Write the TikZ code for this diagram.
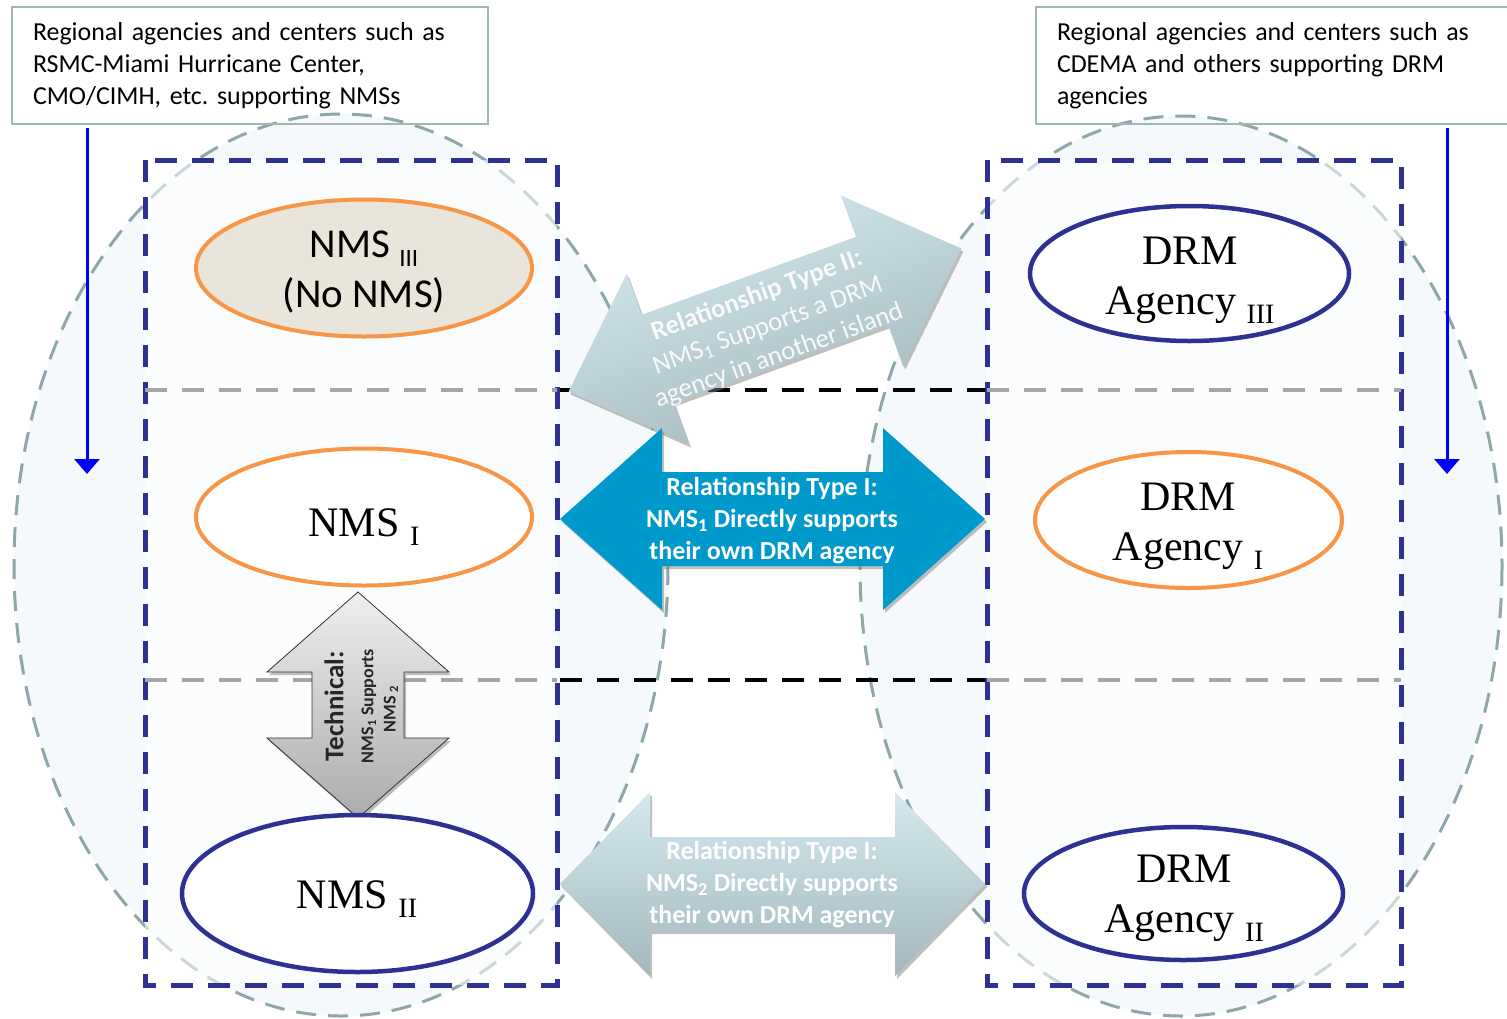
\documentclass[tikz,border=0pt]{standalone}
\usepackage{fontspec}
\setmainfont{Liberation Serif}
\newfontfamily\carlito{Carlito}
\usetikzlibrary{shapes.geometric,arrows.meta}
\definecolor{navy}{HTML}{2E3192}
\definecolor{orng}{HTML}{F79646}
\definecolor{beige}{HTML}{EAE5DA}
\definecolor{zoneline}{HTML}{8EA7A8}
\definecolor{zonefill}{HTML}{F6F9FB}
\definecolor{boxline}{HTML}{A3B6B6}
\definecolor{typeone}{HTML}{0099CB}
\definecolor{palet}{HTML}{D4EAEE}
\definecolor{paleb}{HTML}{A3B8BC}
\definecolor{divgray}{HTML}{A6A6A6}
\newcommand{\dblarr}[4]{(-#1,0) -- (-#1+#2,-#4) -- (-#1+#2,-#3) -- (#1-#2,-#3) -- (#1-#2,-#4) -- (#1,0) -- (#1-#2,#4) -- (#1-#2,#3) -- (-#1+#2,#3) -- (-#1+#2,#4) -- cycle}
\newcommand{\vdblarr}[4]{(0,-#1) -- (-#4,-#1+#2) -- (-#3,-#1+#2) -- (-#3,#1-#2) -- (-#4,#1-#2) -- (0,#1) -- (#4,#1-#2) -- (#3,#1-#2) -- (#3,-#1+#2) -- (#4,-#1+#2) -- cycle}
\newcommand{\lowsub}[2]{\raisebox{-9pt}{\fontsize{#1}{#1}\selectfont #2}}
\frenchspacing
\begin{document}
\begin{tikzpicture}[x=1pt,y=-1pt,line join=miter,
  zone/.style={fill=zonefill, draw=zoneline, line width=3, dash pattern=on 20pt off 12pt},
  column/.style={fill=white, fill opacity=0.55, draw=navy, line width=5, dash pattern=on 22pt off 15pt},
  divider/.style={draw=divgray, line width=4, dash pattern=on 22pt off 15pt},
  middiv/.style={draw=black, line width=4, dash pattern=on 22pt off 15pt},
  orgbox/.style={draw=boxline, line width=2, inner xsep=21, inner ysep=0, align=left,
    anchor=north west, minimum height=117, font=\carlito\fontsize{25.9}{32}\selectfont},
  agent/.style={ellipse, line width=4.5, fill=white, inner sep=0},
  serifname/.style={font=\fontsize{42}{50}\selectfont, align=center},
  bluearr/.style={draw=blue, line width=3, -{Triangle[width=25pt,length=15pt]}},
  arrshadow/.style={fill=black!50, fill opacity=0.5, draw=none},
  palefill/.style={top color=palet, bottom color=paleb, draw=none},
  techfill/.style={top color=black!6, bottom color=black!33, draw=black!80, line width=0.8},
  arrtext/.style={text=white, align=center, font=\carlito\bfseries\fontsize{26}{32}\selectfont},
  arrtexttwo/.style={text=white, text opacity=0.9, align=center, font=\carlito\fontsize{26.5}{32}\selectfont},
  techtext/.style={text=black!85, rotate=90, font=\carlito\bfseries\fontsize{18}{20}\selectfont}]
\useasboundingbox (0,0) rectangle (1507,1018);
% zones
\draw[zone] (341,565) ellipse [x radius=327, y radius=451];
\draw[zone] (1181,566) ellipse [x radius=321, y radius=450];
% columns
\draw[column] (145,160) rectangle (557,985);
\draw[column] (987,160) rectangle (1401,985);
% dividers
\draw[divider] (145,390) -- (557,390);
\draw[divider] (987,390) -- (1401,390);
\draw[divider] (145,680) -- (557,680);
\draw[divider] (987,680) -- (1401,680);
\draw[middiv] (560,390) -- (985,390);
\draw[middiv] (560,680) -- (985,680);
% type II arrow
\begin{scope}[shift={(767,323)}, rotate=20]
  \path[arrshadow] \dblarr{209}{95}{47}{91};
\end{scope}
\begin{scope}[shift={(765,320)}, rotate=20]
  \path[palefill, shading angle=20] \dblarr{209}{95}{47}{91};
\end{scope}
\node[arrtexttwo, rotate=20] (ttwo) at (768,326) {\textbf{Relationship Type II:}\\NMS\textsubscript{1} Supports a DRM\\agency in another island};
% type I arrow (NMS1)
\begin{scope}[shift={(772.5,519)}]
  \path[arrshadow, shift={(2,3)}] \dblarr{212.5}{102}{47}{91};
  \path[fill=typeone] \dblarr{212.5}{102}{47}{91};
\end{scope}
\node[arrtext] (tonea) at (772,521) {Relationship Type I:\\NMS\textsubscript{1} Directly supports\\their own DRM agency};
% type I arrow (NMS2)
\begin{scope}[shift={(772.5,884)}]
  \path[arrshadow, shift={(2,3)}] \dblarr{212.5}{90}{47}{92};
  \path[palefill] \dblarr{212.5}{90}{47}{92};
\end{scope}
\node[arrtext] (toneb) at (772,885) {Relationship Type I:\\NMS\textsubscript{2} Directly supports\\their own DRM agency};
% technical arrow
\begin{scope}[shift={(360,708)}]
  \path[arrshadow] \vdblarr{113}{80}{46}{91};
\end{scope}
\begin{scope}[shift={(358,705)}]
  \path[techfill] \vdblarr{113}{80}{46}{91};
\end{scope}
\node[techtext, font=\carlito\bfseries\fontsize{27}{30}\selectfont] (techa) at (334,706) {Technical:};
\node[techtext] (techb) at (369,706) {NMS\textsubscript{1} Supports};
\node[techtext] (techc) at (391,709) {NMS \textsubscript{2}};
% agencies
\node[agent, draw=orng, fill=beige, line width=4, minimum width=336, minimum height=137] (nmsthree) at (364,268) {};
\node[font=\carlito\fontsize{41}{50}\selectfont, align=center] (nmsthreet) at (364,272) {NMS \lowsub{25}{III}\\(No NMS)};
\node[agent, draw=orng, line width=4, minimum width=336, minimum height=137] (nmsone) at (364,517) {};
\node[serifname, anchor=base] (nmsonet) at (364,536) {NMS \lowsub{28}{I}};
\node[agent, draw=navy, minimum width=351, minimum height=157] (nmstwo) at (357.5,893.5) {};
\node[serifname, anchor=base] (nmstwot) at (357,908) {NMS \lowsub{28}{II}};
\node[agent, draw=navy, minimum width=319, minimum height=135] (drmthree) at (1189.5,273.5) {};
\node[serifname] (drmthreet) at (1190,280) {DRM\\Agency \lowsub{28}{III}};
\node[agent, draw=orng, line width=4, minimum width=307, minimum height=136] (drmone) at (1188.5,520) {};
\node[serifname] (drmonet) at (1188,526) {DRM\\Agency \lowsub{28}{I}};
\node[agent, draw=navy, minimum width=319, minimum height=133] (drmtwo) at (1183.5,893.5) {};
\node[serifname] (drmtwot) at (1184,898) {DRM\\Agency \lowsub{28}{II}};
% regional boxes
\node[orgbox, text width=434] (regl) at (11,6) {Regional agencies and centers such as\\RSMC-Miami Hurricane Center,\\CMO/CIMH, etc. supporting NMSs};
\node[orgbox, text width=440] (regr) at (1035,6) {Regional agencies and centers such as\\CDEMA and others supporting DRM\\agencies};
\coordinate (dla) at (87,128);
\coordinate (dlb) at (87,474);
\coordinate (dra) at (1447,128);
\coordinate (drb) at (1447,474);
\draw[bluearr] (dla) -- (dlb);
\draw[bluearr] (dra) -- (drb);
\end{tikzpicture}
\end{document}
